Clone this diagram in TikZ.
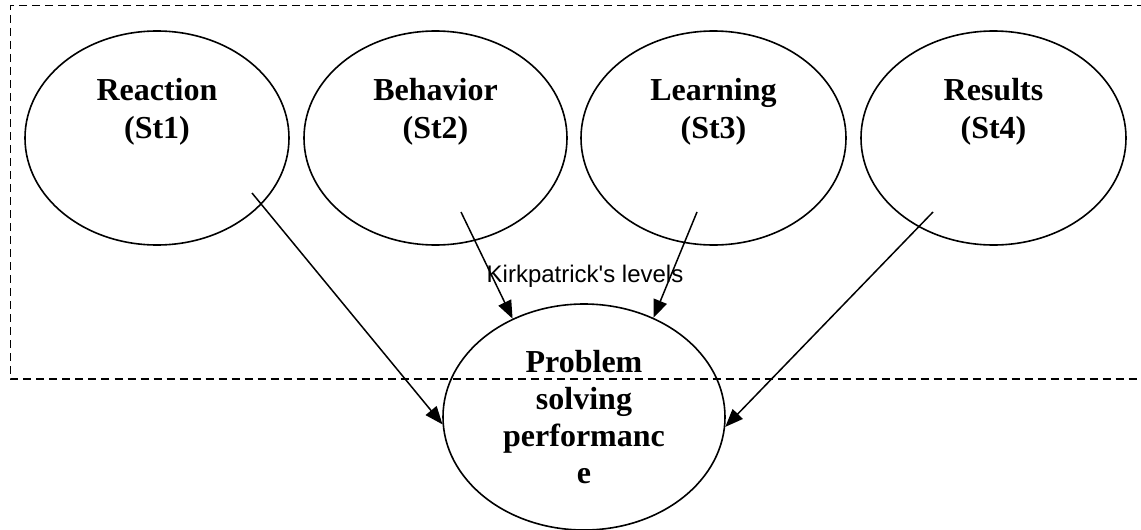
\documentclass[tikz,border=0pt]{standalone}
\usepackage{fontspec}
\setmainfont{Liberation Serif}
\newfontfamily\arialfont{Liberation Sans}
\usetikzlibrary{shapes.geometric,arrows.meta}
\tikzset{
  oval/.style={draw=black, line width=1.6pt, ellipse, inner sep=0pt},
  ovaltext/.style={align=center, font=\fontsize{32}{38}\selectfont\bfseries, inner sep=0pt},
  arr/.style={draw=black, line width=1.5pt, -{Triangle[length=18pt,width=14pt]}},
  frame/.style={draw=black, line width=1.6pt, dash pattern=on 8pt off 5pt}
}
\begin{document}
\begin{tikzpicture}[x=1pt,y=-1pt]
\useasboundingbox (0,0) rectangle (1141,530);
% dashed frame (open on the right, runs past the edge)
\draw[frame] (1145,5.5) -- (10.5,5.5) -- (10.5,379) -- (1145,379);
% top ovals
\node[oval, minimum width=264pt, minimum height=214pt] (e1) at (157,138) {};
\node[oval, minimum width=263pt, minimum height=214pt] (e2) at (435.5,138) {};
\node[oval, minimum width=265pt, minimum height=214pt] (e3) at (713.5,138) {};
\node[oval, minimum width=265pt, minimum height=214pt] (e4) at (993.5,138) {};
\node[ovaltext] (t1) at (157,112) {Reaction\\(St1)};
\node[ovaltext] (t2) at (435.5,112) {Behavior\\(St2)};
\node[ovaltext] (t3) at (713.5,112) {Learning\\(St3)};
\node[ovaltext] (t4) at (993.5,112) {Results\\(St4)};
% target oval
\node[oval, minimum width=282pt, minimum height=226pt, align=center,
      font=\fontsize{32}{37}\selectfont\bfseries] (ps) at (584,417)
      {Problem\\solving\\performanc\\e};
% label
\node[anchor=base, font=\arialfont\fontsize{24}{28}\selectfont, inner sep=0pt] (kl) at (585,282) {Kirkpatrick's levels};
% arrow start points
\coordinate (s1) at (252,193);
\coordinate (s2) at (461,212);
\coordinate (s3) at (697,212);
\coordinate (s4) at (933,212);
\draw[arr] (s1) -- (ps.183);
\draw[arr] (s2) -- (ps.126);
\draw[arr] (s3) -- (ps.55);
\draw[arr] (s4) -- (ps.356);
\end{tikzpicture}
\end{document}
